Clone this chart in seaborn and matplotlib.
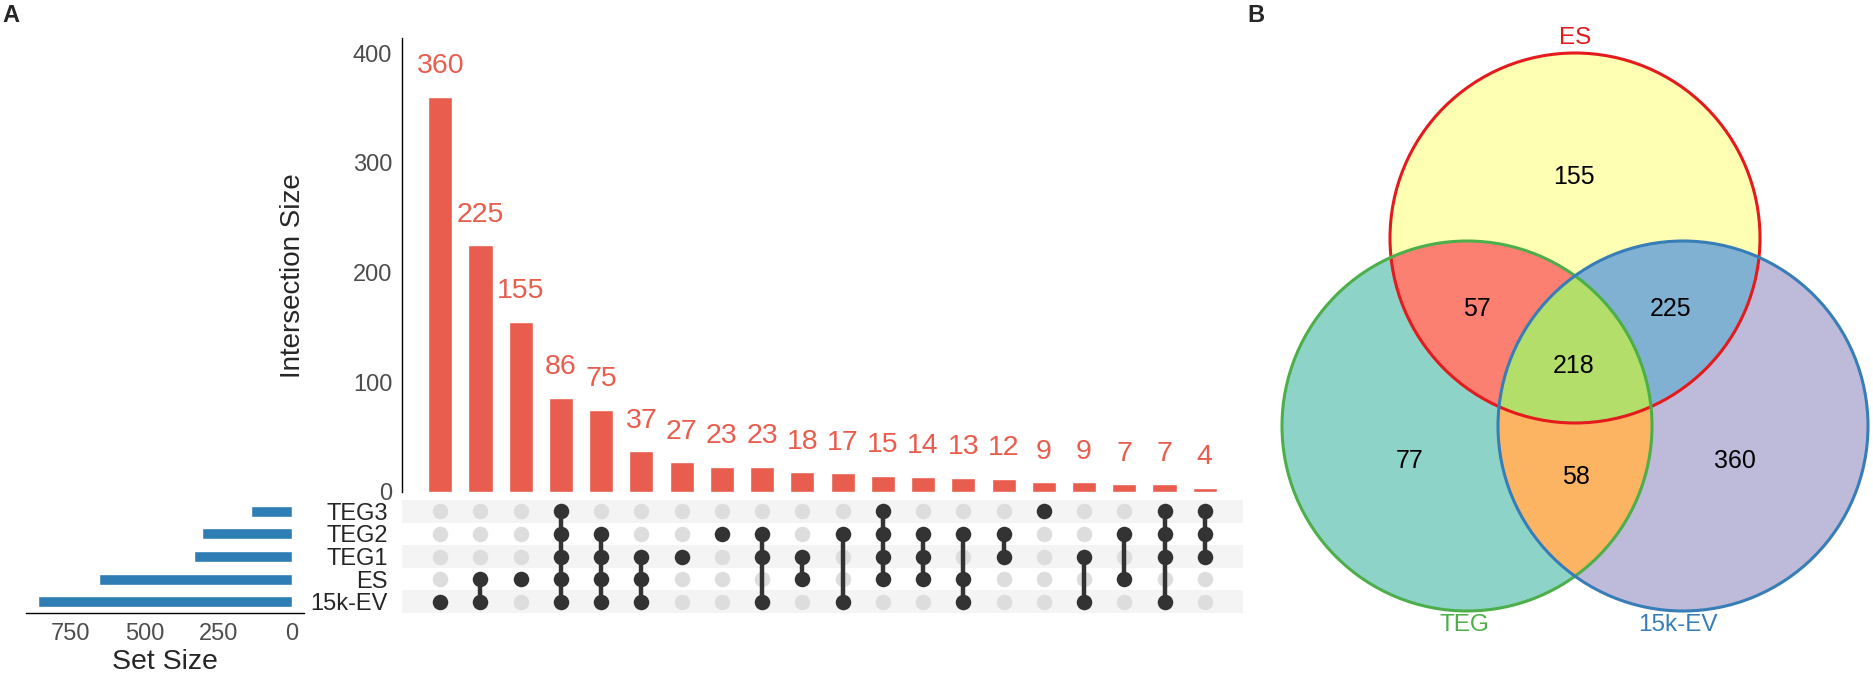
import numpy as np
import pandas as pd
import matplotlib
matplotlib.use("Agg")
import matplotlib.pyplot as plt
import seaborn as sns
from matplotlib.patches import Circle, Polygon

# ---- data ----
set_names = ['TEG3', 'TEG2', 'TEG1', 'ES', '15k-EV']
set_sizes = [141, 306, 334, 655, 861]

inter_members = [
    ['15k-EV'],
    ['ES', '15k-EV'],
    ['ES'],
    ['TEG3', 'TEG2', 'TEG1', 'ES', '15k-EV'],
    ['TEG2', 'TEG1', 'ES', '15k-EV'],
    ['TEG1', 'ES', '15k-EV'],
    ['TEG1'],
    ['TEG2'],
    ['TEG2', 'TEG1', '15k-EV'],
    ['TEG1', 'ES'],
    ['TEG2', '15k-EV'],
    ['TEG3', 'TEG2', 'TEG1', 'ES'],
    ['TEG2', 'TEG1', 'ES'],
    ['TEG2', 'ES', '15k-EV'],
    ['TEG2', 'TEG1'],
    ['TEG3'],
    ['TEG1', '15k-EV'],
    ['TEG2', 'ES'],
    ['TEG3', 'TEG2', 'TEG1', '15k-EV'],
    ['TEG3', 'TEG2', 'TEG1'],
]
inter_sizes = [360, 225, 155, 86, 75, 37, 27, 23, 23, 18, 17, 15, 14, 13, 12, 9, 9, 7, 7, 4]

venn_sets = ['ES', 'TEG', '15k-EV']
venn_regions = ['ES', 'TEG', '15k-EV', 'ES&TEG', 'ES&15k-EV', 'TEG&15k-EV', 'ES&TEG&15k-EV']
venn_counts = [155, 77, 360, 57, 225, 58, 218]

# ---- style ----
sns.set_style('white')
plt.rcParams['font.family'] = ['Liberation Sans', 'DejaVu Sans']

RED = '#E85D4D'
BLUE = '#2E7DB4'
DARK = '#333333'
LIGHT = '#DDDDDD'
GREY_TXT = '#4D4D4D'

W, H = 1873, 681
fig = plt.figure(figsize=(W / 100, H / 100), dpi=100)

combo = ['&'.join(m) for m in inter_members]
df_int = pd.DataFrame({'combo': combo, 'size': inter_sizes})

# intersection size bars
ax_bar = fig.add_axes([402 / W, 1 - 492 / H, 841 / W, 454 / H])
sns.barplot(data=df_int, x='combo', y='size', order=combo, color=RED,
            width=0.6, saturation=1, ax=ax_bar)
for i, v in enumerate(df_int['size']):
    ax_bar.annotate(str(v), (i, v), xytext=(0, 22), textcoords='offset points',
                    ha='center', va='center', color=RED, fontsize=20.5)
ax_bar.set_xlim(-0.95, 19.95)
ax_bar.set_ylim(0, 413.7)
ax_bar.set_yticks([0, 100, 200, 300, 400])
ax_bar.set_xticks([])
ax_bar.set_xlabel('')
ax_bar.set_ylabel('Intersection Size', fontsize=20)
ax_bar.yaxis.set_label_coords(-0.114, 0.476)
ax_bar.tick_params(axis='y', labelsize=17, labelcolor=GREY_TXT, length=4,
                   width=1, color=DARK, pad=3)
for s in ['top', 'right', 'bottom']:
    ax_bar.spines[s].set_visible(False)
ax_bar.spines['left'].set_color('black')
ax_bar.spines['left'].set_linewidth(1)

# matrix of dots
ax_mat = fig.add_axes([402 / W, 1 - 613 / H, 841 / W, 113 / H])
for r in range(0, len(set_names), 2):
    ax_mat.axhspan(r - 0.5, r + 0.5, color='#F4F4F4', zorder=0, lw=0)
rows = []
for ci, mem in enumerate(inter_members):
    for ri, name in enumerate(set_names):
        rows.append({'col': ci, 'row': ri, 'on': name in mem})
df_dots = pd.DataFrame(rows)
sns.scatterplot(data=df_dots[~df_dots['on']], x='col', y='row', color=LIGHT,
                s=125, linewidth=0, ax=ax_mat, zorder=1)
for ci, mem in enumerate(inter_members):
    idx = [set_names.index(m) for m in mem]
    if len(idx) > 1:
        ax_mat.plot([ci, ci], [min(idx), max(idx)], color=DARK, lw=3.2,
                    zorder=2, solid_capstyle='butt')
sns.scatterplot(data=df_dots[df_dots['on']], x='col', y='row', color=DARK,
                s=125, linewidth=0, ax=ax_mat, zorder=3)
ax_mat.set_xlim(-0.95, 19.95)
ax_mat.set_ylim(len(set_names) - 0.5, -0.5)
ax_mat.set_xticks([])
ax_mat.set_yticks(range(len(set_names)))
ax_mat.set_yticklabels(set_names)
ax_mat.tick_params(axis='y', length=0, labelsize=17, pad=10)
ax_mat.set_xlabel('')
ax_mat.set_ylabel('')
for s in ax_mat.spines.values():
    s.set_visible(False)

# set size bars
ax_set = fig.add_axes([26 / W, 1 - 613 / H, 278 / W, 113 / H])
sns.barplot(x=set_sizes, y=set_names, orient='h', order=set_names, color=BLUE,
            width=0.48, saturation=1, ax=ax_set)
ax_set.set_xlim(901, -40)
ax_set.set_ylim(len(set_names) - 0.5, -0.5)
ax_set.set_xticks([0, 250, 500, 750])
ax_set.set_yticks([])
ax_set.set_xlabel('Set Size', fontsize=20.5, labelpad=3)
ax_set.tick_params(axis='x', labelsize=17, labelcolor=GREY_TXT, length=4,
                   width=1, color=DARK, pad=3)
for s in ['top', 'right', 'left']:
    ax_set.spines[s].set_visible(False)
ax_set.spines['bottom'].set_color('black')
ax_set.spines['bottom'].set_linewidth(1)

# ---- venn diagram ----
ax_v = fig.add_axes([1240 / W, 0, 633 / W, 1])
ax_v.set_xlim(1240, 1873)
ax_v.set_ylim(681, 0)
ax_v.axis('off')

R = 185
centers = {'ES': (1575, 238), 'TEG': (1467, 426), '15k-EV': (1683, 426)}
edge_col = {'ES': '#E41A1C', 'TEG': '#4DAF4A', '15k-EV': '#377EB8'}
fill_col = {'ES': '#FFFFB3', 'TEG': '#8DD3C7', '15k-EV': '#BEBADA',
            'ES&TEG': '#FB8072', 'ES&15k-EV': '#80B1D3', 'TEG&15k-EV': '#FDB462',
            'ES&TEG&15k-EV': '#B3DE69'}


def region_poly(names, n=1440):
    # boundary of the intersection of a few circles (convex)
    pts = []
    t = np.linspace(0, 2 * np.pi, n, endpoint=False)
    for nm in names:
        cx, cy = centers[nm]
        p = np.column_stack([cx + R * np.cos(t), cy + R * np.sin(t)])
        keep = np.ones(len(p), bool)
        for other in names:
            if other == nm:
                continue
            ox, oy = centers[other]
            keep &= np.hypot(p[:, 0] - ox, p[:, 1] - oy) <= R + 1e-6
        pts.append(p[keep])
    pts = np.vstack(pts)
    m = pts.mean(axis=0)
    order = np.argsort(np.arctan2(pts[:, 1] - m[1], pts[:, 0] - m[0]))
    return pts[order]


for nm in venn_sets:
    ax_v.add_patch(Circle(centers[nm], R, facecolor=fill_col[nm], lw=0, zorder=1))
for reg in venn_regions[3:]:
    ax_v.add_patch(Polygon(region_poly(reg.split('&')), closed=True,
                           facecolor=fill_col[reg], lw=0, zorder=2 + reg.count('&')))
for nm in venn_sets:
    ax_v.add_patch(Circle(centers[nm], R, fill=False, edgecolor=edge_col[nm],
                          lw=2.2, zorder=5))

count_pos = {'ES': (1574, 177), 'TEG': (1410, 461), '15k-EV': (1735, 461),
             'ES&TEG': (1477, 309), 'ES&15k-EV': (1671, 309),
             'TEG&15k-EV': (1576, 477), 'ES&TEG&15k-EV': (1574, 366)}
for reg, cnt in zip(venn_regions, venn_counts):
    x, y = count_pos[reg]
    ax_v.text(x, y, str(cnt), ha='center', va='center', fontsize=18,
              color='black', zorder=6)

label_pos = {'ES': (1575, 38), 'TEG': (1464, 625), '15k-EV': (1678, 625)}
for nm in venn_sets:
    x, y = label_pos[nm]
    ax_v.text(x, y, nm, ha='center', va='center', fontsize=17.5,
              color=edge_col[nm], zorder=6)

# panel letters
fig.text(2 / W, 1 - 16 / H, 'A', fontsize=17, fontweight='bold', va='center', ha='left')
fig.text(1247 / W, 1 - 16 / H, 'B', fontsize=17, fontweight='bold', va='center', ha='left')

fig.savefig('out.png', dpi=100)
